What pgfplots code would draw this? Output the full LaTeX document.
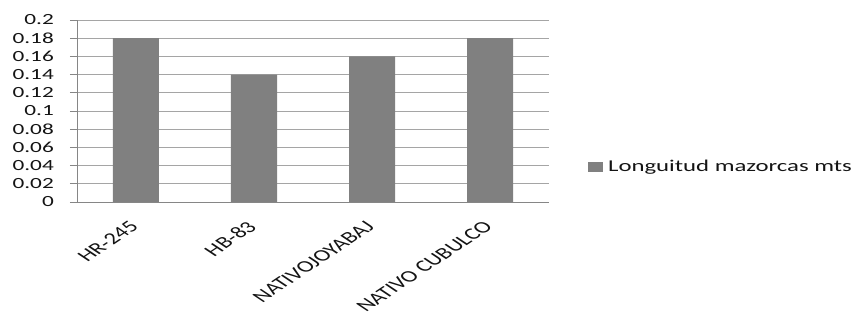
\documentclass[border=0pt]{standalone}
\usepackage{pgfplots}
\pgfplotsset{compat=1.18}
\usepackage{graphicx}
\usepackage{fontspec}
\setmainfont{Carlito}
\newcommand\sx[1]{\scalebox{1.5}[1]{#1}}
\newcommand\rl[1]{\scalebox{1.5}[1]{\rotatebox{45}{#1}}}
\definecolor{barc}{RGB}{128,128,128}
\definecolor{gridc}{RGB}{165,165,165}
\definecolor{axc}{RGB}{134,134,134}
\definecolor{txtc}{RGB}{20,20,20}
\begin{document}
\begin{tikzpicture}[x=1pt,y=1pt]
\useasboundingbox (0,0) rectangle (852,320);
\begin{axis}[
  at={(77pt,118pt)}, anchor=south west,
  scale only axis, width=472pt, height=182pt,
  xmin=-0.5, xmax=3.5, ymin=0, ymax=0.2,
  axis lines*=left,
  axis line style={axc, line width=0.8pt},
  ymajorgrids, grid style={gridc, line width=0.8pt},
  ytick={0,0.02,0.04,0.06,0.08,0.1,0.12,0.14,0.16,0.18,0.2},
  yticklabels={\sx{0},\sx{0.02},\sx{0.04},\sx{0.06},\sx{0.08},\sx{0.1},\sx{0.12},\sx{0.14},\sx{0.16},\sx{0.18},\sx{0.2}},
  xtick={0,1,2,3},
  xticklabels={\rl{HR-245},\rl{HB-83},\rl{NATIVOJOYABAJ},\rl{NATIVO CUBULCO}},
  major x tick style={draw=none},
  extra x ticks={-0.5,0.5,1.5,2.5,3.5},
  extra x tick labels={},
  extra x tick style={major tick length=5pt, tick style={axc, line width=0.8pt}},
  tick align=outside,
  major tick length=7pt,
  tick style={axc, line width=0.8pt},
  y tick label style={font=\fontsize{15.5}{18}\selectfont, text=txtc, anchor=east, inner sep=0pt, xshift=-16pt},
  x tick label style={font=\fontsize{16.5}{19}\selectfont, text=txtc, anchor=north east, inner sep=0pt, xshift=4pt, yshift=-11pt},
  legend style={at={(axis cs:3.83,0.0385)}, anchor=west, draw=none, fill=none,
    font=\fontsize{16.5}{19}\selectfont, text=txtc, inner sep=0pt},
  legend image code/.code={\fill[barc] (0pt,-5pt) rectangle (15pt,5pt);},
]
\addplot[ybar, bar width=46pt, fill=barc, draw=none] coordinates {(0,0.18) (1,0.14) (2,0.16) (3,0.18)};
\addlegendentry{\hspace{3pt}\sx{Longuitud mazorcas mts}}
\end{axis}
\end{tikzpicture}
\end{document}
